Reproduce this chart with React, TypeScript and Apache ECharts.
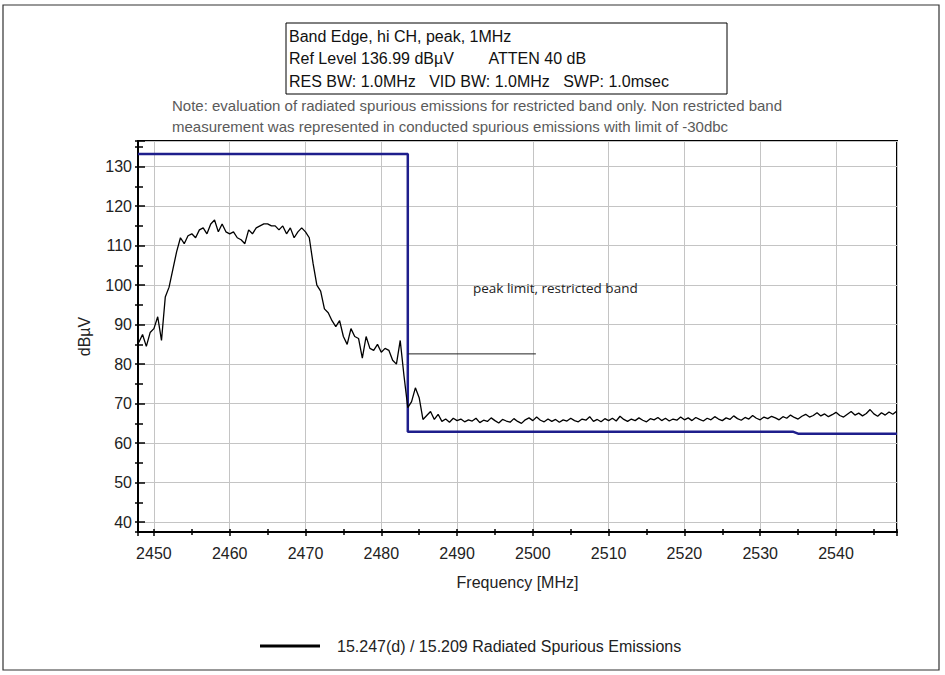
import React, { useEffect, useRef } from "react";
import * as echarts from "echarts";

// ---------- data ----------
const TRACE_NAME = "15.247(d) / 15.209 Radiated Spurious Emissions";
const TRACE_START_MHZ = 2448.0;
const TRACE_STEP_MHZ = 0.5;

// sweep readings 2448.0 .. 2490.0 MHz (0.5 MHz steps), dBµV
const traceSignal = [
  85.5, 87.5, 84.5, 88.0, 89.0, 92.0, 86.0, 97.0, 99.5, 104.0,
  108.5, 112.0, 110.5, 112.5, 113.0, 112.0, 114.0, 114.5, 113.0, 115.5,
  116.5, 113.5, 115.5, 113.5, 113.0, 113.5, 112.0, 111.5, 110.5, 114.0,
  113.0, 114.5, 115.0, 115.5, 115.5, 115.0, 115.0, 114.0, 115.0, 113.0,
  114.5, 112.0, 113.5, 114.5, 113.5, 112.0, 105.5, 100.0, 98.5, 94.0,
  93.0, 91.0, 89.5, 91.0, 87.0, 85.0, 89.0, 87.0, 86.5, 81.5,
  87.0, 84.0, 83.5, 85.0, 83.0, 84.0, 83.5, 81.0, 80.0, 86.0,
  77.0, 69.0, 70.5, 74.0, 71.5, 66.0, 67.0, 68.0, 66.0, 67.3,
  65.5, 66.1, 65.3, 66.3, 65.7,
];

// sweep readings 2490.5 .. 2548.0 MHz (0.5 MHz steps), dBµV
const traceFloor = [
  66.1, 65.4, 65.9, 65.6, 66.3, 65.2, 65.8, 65.5, 66.4, 65.7,
  65.1, 66.0, 65.6, 65.3, 66.2, 65.5, 65.0, 65.9, 66.4, 65.7,
  66.6, 65.8, 65.4, 66.1, 65.5, 66.0, 65.3, 65.9, 65.6, 66.3,
  65.7, 65.4, 66.1, 65.8, 66.7, 65.5, 66.0, 65.4, 66.2, 65.7,
  66.3, 65.6, 66.8, 66.0, 65.5, 66.1, 65.7, 66.4, 65.8, 65.4,
  66.2, 65.9, 66.5, 65.7, 66.3, 65.6, 66.1, 65.8, 66.6, 65.9,
  66.4, 65.7, 66.5, 66.0, 65.6, 66.3, 65.9, 66.7, 66.1, 65.7,
  66.4, 66.0, 66.9, 66.2, 65.8, 66.5, 66.1, 67.0, 66.3, 65.9,
  66.6, 66.2, 66.8, 66.4, 65.9, 66.7, 66.3, 67.1, 66.5, 66.1,
  66.8, 67.3, 66.6, 67.0, 67.7, 66.9, 67.4, 66.7, 67.2, 67.8,
  67.0, 66.6, 67.3, 68.0, 67.1, 67.6, 66.9, 67.5, 68.5, 67.4,
  66.8, 67.7, 67.1, 67.9, 67.3, 68.1,
];

const limitFreqs = [2447.9, 2483.5, 2483.5, 2534.3, 2535.0, 2548.05];
const limitLevels = [133.2, 133.2, 62.9, 62.9, 62.4, 62.4];

const markerFreqs = [2483.5, 2500.4];
const markerLevels = [82.6, 82.6];

const X_MIN = 2447.9;
const X_MAX = 2548.05;
const Y_MIN = 37.5;
const Y_MAX = 136.5;

const titleLines = [
  "Band Edge, hi CH, peak, 1MHz",
  "Ref Level 136.99 dBµV        ATTEN 40 dB",
  "RES BW: 1.0MHz   VID BW: 1.0MHz   SWP: 1.0msec",
];
const noteLines = [
  "Note: evaluation of radiated spurious emissions for restricted band only. Non restricted band",
  "measurement was represented in conducted spurious emissions with limit of -30dbc",
];
const annotationText = "peak limit, restricted band";
const xAxisTitle = "Frequency [MHz]";
const yAxisTitle = "dBµV";

const FONT = "'Liberation Sans', Arial, Helvetica, sans-serif";

export default function App() {
  const ref = useRef<HTMLDivElement | null>(null);

  useEffect(() => {
    document.body.style.margin = "0";
    if (!ref.current) return;
    const chart = echarts.init(ref.current, undefined, { renderer: "svg" });

    const tracePoints: number[][] = [];
    const allLevels = traceSignal.concat(traceFloor);
    allLevels.forEach((v, i) => {
      tracePoints.push([TRACE_START_MHZ + i * TRACE_STEP_MHZ, v]);
    });
    const limitPoints = limitFreqs.map((f, i) => [f, limitLevels[i]]);
    const markerPoints = markerFreqs.map((f, i) => [f, markerLevels[i]]);

    const tickStyle = { color: "#000", width: 1.5 };
    const plain = (v: number) => String(Math.round(v));

    const option: any = {
      animation: false,
      backgroundColor: "#fff",
      textStyle: { fontFamily: FONT },
      grid: {
        left: 138,
        top: 141,
        right: 48,
        bottom: 143,
        show: true,
        borderColor: "#000",
        borderWidth: 2,
        backgroundColor: "#fff",
      },
      legend: {
        data: [TRACE_NAME],
        left: 255,
        top: 633,
        icon: "rect",
        itemWidth: 60,
        itemHeight: 3,
        textStyle: {
          fontFamily: FONT,
          fontSize: 16,
          color: "#222",
          padding: [0, 0, 0, 12],
        },
      },
      xAxis: [
        {
          type: "value",
          min: X_MIN,
          max: X_MAX,
          splitNumber: 10,
          position: "bottom",
          name: xAxisTitle,
          nameLocation: "middle",
          nameGap: 42,
          nameTextStyle: { fontFamily: FONT, fontSize: 16, color: "#222" },
          axisLine: { show: true, onZero: false, lineStyle: { color: "#000", width: 2 } },
          axisTick: { show: true, inside: false, length: 4, lineStyle: tickStyle },
          minorTick: { show: true, splitNumber: 2, length: 3, lineStyle: tickStyle },
          splitLine: { show: true, lineStyle: { color: "#c4c4c4", width: 1 } },
          minorSplitLine: { show: false },
          axisLabel: {
            showMinLabel: false,
            showMaxLabel: false,
            margin: 13,
            color: "#222",
            fontSize: 16,
            fontFamily: FONT,
            formatter: plain,
          },
        },
        {
          type: "value",
          min: X_MIN,
          max: X_MAX,
          splitNumber: 10,
          position: "bottom",
          axisLine: { show: false, onZero: false },
          axisTick: { show: true, inside: true, length: 3, lineStyle: tickStyle },
          minorTick: { show: true, splitNumber: 2, length: 3, lineStyle: tickStyle },
          splitLine: { show: false },
          axisLabel: { show: false },
        },
      ],
      yAxis: [
        {
          type: "value",
          min: Y_MIN,
          max: Y_MAX,
          splitNumber: 10,
          position: "left",
          name: yAxisTitle,
          nameLocation: "middle",
          nameGap: 46,
          nameTextStyle: { fontFamily: FONT, fontSize: 16, color: "#222" },
          axisLine: { show: true, onZero: false, lineStyle: { color: "#000", width: 2 } },
          axisTick: { show: true, inside: false, length: 3, lineStyle: tickStyle },
          minorTick: { show: true, splitNumber: 2, length: 3, lineStyle: tickStyle },
          splitLine: { show: true, lineStyle: { color: "#c4c4c4", width: 1 } },
          minorSplitLine: { show: false },
          axisLabel: {
            showMinLabel: false,
            showMaxLabel: false,
            margin: 6,
            color: "#222",
            fontSize: 16,
            fontFamily: FONT,
            formatter: plain,
          },
        },
        {
          type: "value",
          min: Y_MIN,
          max: Y_MAX,
          splitNumber: 10,
          position: "left",
          axisLine: { show: false, onZero: false },
          axisTick: { show: true, inside: true, length: 7, lineStyle: tickStyle },
          minorTick: { show: true, splitNumber: 2, length: 5, lineStyle: tickStyle },
          splitLine: { show: false },
          axisLabel: { show: false },
        },
      ],
      series: [
        {
          name: "limit",
          type: "line",
          xAxisIndex: 0,
          yAxisIndex: 0,
          data: limitPoints,
          symbol: "none",
          silent: true,
          z: 2,
          lineStyle: { color: "#1e1e8c", width: 2.5 },
          itemStyle: { color: "#1e1e8c" },
        },
        {
          name: "marker",
          type: "line",
          xAxisIndex: 0,
          yAxisIndex: 0,
          data: markerPoints,
          symbol: "none",
          silent: true,
          z: 2,
          lineStyle: { color: "#222", width: 1 },
          itemStyle: { color: "#222" },
        },
        {
          name: TRACE_NAME,
          type: "line",
          xAxisIndex: 0,
          yAxisIndex: 0,
          data: tracePoints,
          symbol: "none",
          z: 3,
          lineStyle: { color: "#000", width: 1.3 },
          itemStyle: { color: "#000" },
        },
      ],
      graphic: [
        {
          type: "rect",
          shape: { x: 3, y: 5, width: 936, height: 665 },
          style: { fill: "none", stroke: "#333", lineWidth: 1.2 },
          silent: true,
        },
        {
          type: "group",
          children: [
            {
              type: "rect",
              shape: { x: 286, y: 23, width: 441, height: 71 },
              style: { fill: "#fff", stroke: "#000", lineWidth: 1 },
            },
            ...titleLines.map((t, i) => ({
              type: "text",
              x: 289,
              y: 36 + i * 22.5,
              style: {
                text: t,
                fontFamily: FONT,
                fontSize: 16,
                fill: "#111",
                verticalAlign: "middle",
                align: "left",
              },
            })),
          ],
        },
        ...noteLines.map((t, i) => ({
          type: "text",
          x: 172,
          y: 105 + i * 21,
          style: {
            text: t,
            fontFamily: FONT,
            fontSize: 15,
            fill: "#5a5a5a",
            verticalAlign: "middle",
            align: "left",
          },
        })),
        {
          type: "text",
          x: 473,
          y: 288,
          z: 10,
          style: {
            text: annotationText,
            fontFamily: "'Open Sans', 'Noto Sans', sans-serif",
            fontSize: 13.5,
            fill: "#222",
            verticalAlign: "middle",
            align: "left",
          },
        },
      ],
    };

    chart.setOption(option);
    return () => {
      chart.dispose();
    };
  }, []);

  return (
    <div
      ref={ref}
      style={{ width: 945, height: 675, position: "absolute", left: 0, top: 0 }}
    />
  );
}
